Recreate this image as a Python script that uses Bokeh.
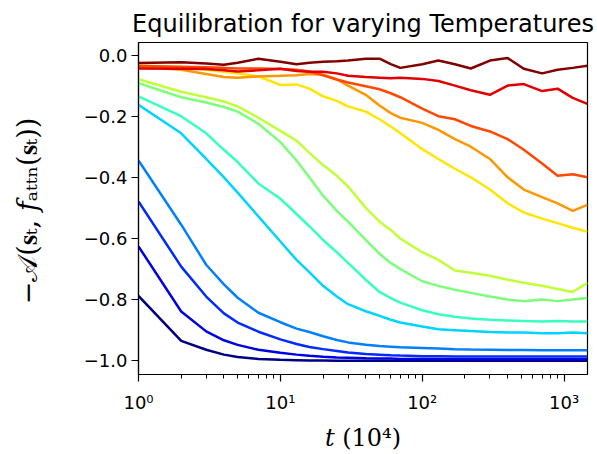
from bokeh.plotting import figure
from bokeh.models import Range1d, FixedTicker
from bokeh.embed import file_html
from bokeh.resources import INLINE

# time steps (units of 10^4)
t = [1, 2, 3, 4, 5, 7, 10, 13, 16, 20, 25, 30, 40, 50, 60, 70, 100, 130, 170,
     220, 300, 400, 520, 700, 900, 1150, 1460]

# one curve per temperature, coldest (navy) to hottest (dark red)
y_navy = [-0.788, -0.935, -0.964, -0.980, -0.988, -0.994, -0.997, -0.998, -0.999, -0.999,
          -1.0, -1.0, -1.0, -1.0, -1.0, -1.0, -1.0, -1.0, -1.0, -1.0, -1.0, -1.0, -1.0,
          -1.0, -1.0, -1.0, -1.0]
y_darkblue = [-0.626, -0.839, -0.904, -0.933, -0.948, -0.964, -0.974, -0.980, -0.984, -0.987,
              -0.989, -0.990, -0.992, -0.993, -0.993, -0.994, -0.994, -0.994, -0.995, -0.995,
              -0.995, -0.995, -0.995, -0.995, -0.995, -0.995, -0.995]
y_blue = [-0.479, -0.692, -0.790, -0.845, -0.875, -0.905, -0.930, -0.945, -0.955, -0.962,
          -0.968, -0.973, -0.978, -0.980, -0.982, -0.983, -0.985, -0.985, -0.986, -0.986,
          -0.986, -0.986, -0.986, -0.986, -0.986, -0.986, -0.986]
y_azure = [-0.345, -0.555, -0.686, -0.750, -0.794, -0.843, -0.874, -0.895, -0.906, -0.920,
           -0.932, -0.940, -0.948, -0.952, -0.954, -0.956, -0.958, -0.960, -0.962, -0.963,
           -0.964, -0.965, -0.965, -0.966, -0.966, -0.966, -0.966]
y_cyan = [-0.163, -0.256, -0.340, -0.400, -0.450, -0.528, -0.610, -0.670, -0.710, -0.755,
          -0.790, -0.815, -0.838, -0.853, -0.866, -0.875, -0.888, -0.897, -0.900, -0.903,
          -0.906, -0.908, -0.908, -0.910, -0.910, -0.908, -0.910]
y_aqua = [-0.135, -0.200, -0.256, -0.310, -0.350, -0.420, -0.470, -0.520, -0.560, -0.605,
          -0.645, -0.680, -0.735, -0.775, -0.795, -0.810, -0.835, -0.848, -0.856, -0.862,
          -0.866, -0.868, -0.870, -0.872, -0.870, -0.872, -0.872]
y_lightgreen = [-0.092, -0.138, -0.155, -0.170, -0.185, -0.225, -0.285, -0.345, -0.400, -0.460,
                -0.510, -0.545, -0.605, -0.650, -0.680, -0.700, -0.740, -0.755, -0.768, -0.778,
                -0.790, -0.800, -0.805, -0.800, -0.805, -0.800, -0.795]
y_yellowgreen = [-0.079, -0.120, -0.138, -0.152, -0.168, -0.205, -0.248, -0.280, -0.320, -0.360,
                 -0.395, -0.430, -0.500, -0.545, -0.572, -0.600, -0.645, -0.670, -0.705, -0.712,
                 -0.722, -0.735, -0.745, -0.755, -0.765, -0.775, -0.745]
y_yellow = [-0.034, -0.040, -0.048, -0.055, -0.060, -0.070, -0.098, -0.096, -0.110, -0.135,
            -0.150, -0.168, -0.185, -0.210, -0.234, -0.255, -0.308, -0.340, -0.372, -0.400,
            -0.440, -0.485, -0.515, -0.535, -0.550, -0.565, -0.578]
y_orange = [-0.038, -0.048, -0.062, -0.072, -0.074, -0.070, -0.068, -0.066, -0.062, -0.064,
            -0.080, -0.100, -0.130, -0.165, -0.190, -0.205, -0.222, -0.245, -0.275, -0.300,
            -0.340, -0.400, -0.440, -0.465, -0.485, -0.510, -0.490]
y_orangered = [-0.036, -0.038, -0.040, -0.042, -0.044, -0.044, -0.046, -0.048, -0.054, -0.066,
               -0.080, -0.090, -0.102, -0.112, -0.125, -0.138, -0.175, -0.200, -0.210, -0.232,
               -0.250, -0.275, -0.310, -0.355, -0.395, -0.390, -0.400]
y_red = [-0.044, -0.045, -0.046, -0.050, -0.054, -0.050, -0.045, -0.052, -0.055, -0.055,
         -0.060, -0.068, -0.072, -0.074, -0.076, -0.074, -0.078, -0.085, -0.100, -0.115,
         -0.130, -0.100, -0.095, -0.118, -0.110, -0.140, -0.160]
y_darkred = [-0.026, -0.024, -0.028, -0.032, -0.025, -0.012, -0.022, -0.030, -0.025, -0.022,
             -0.020, -0.018, -0.012, -0.012, -0.030, -0.042, -0.030, -0.018, -0.030, -0.044,
             -0.018, -0.010, -0.045, -0.060, -0.048, -0.042, -0.035]

series = [y_navy, y_darkblue, y_blue, y_azure, y_cyan, y_aqua, y_lightgreen,
          y_yellowgreen, y_yellow, y_orange, y_orangered, y_red, y_darkred]
colors = ["#000080", "#0000e0", "#002bff", "#0080ff", "#00d4ff", "#37ffc0", "#7bff7b",
          "#c0ff37", "#ffe600", "#ff9700", "#ff4800", "#e00000", "#800000"]

x_ticks = [1, 10, 100, 1000]
x_tick_labels = ["10⁰", "10¹", "10²", "10³"]
y_ticks = [-1.0, -0.8, -0.6, -0.4, -0.2, 0.0]
y_tick_labels = ["−1.0", "−0.8", "−0.6", "−0.4", "−0.2", "0.0"]

title = "Equilibration for varying Temperatures"
x_label = "𝑡 (10⁴)"
y_label = "−𝒜(𝐬ₜ, 𝑓ₐₜₜₙ(𝐬ₜ))"

p = figure(width=597, height=454, x_axis_type="log",
           x_range=Range1d(1, 1462), y_range=Range1d(-1.045, 0.041),
           output_backend="svg", toolbar_location=None,
           min_border_left=138, min_border_right=10,
           min_border_top=42, min_border_bottom=77)

for ys, c in zip(series, colors):
    p.line(t, ys, line_color=c, line_width=2.5)

p.title.text = title
p.title.align = "center"
p.title.text_font = "DejaVu Sans"
p.title.text_font_size = "24px"
p.title.text_font_style = "normal"
p.title.text_color = "black"
p.title.standoff = 9

p.grid.visible = False
p.outline_line_color = "black"
p.outline_line_width = 1.2

minor = [m * 10 ** k for k in range(0, 4) for m in range(2, 10)]
p.xaxis.ticker = FixedTicker(ticks=x_ticks, minor_ticks=minor)
p.xaxis.major_label_overrides = dict(zip(x_ticks, x_tick_labels))
p.yaxis.ticker = FixedTicker(ticks=y_ticks, minor_ticks=[])
p.yaxis.major_label_overrides = dict(zip(y_ticks, y_tick_labels))

for ax in (p.xaxis, p.yaxis):
    ax.axis_line_color = "black"
    ax.axis_line_width = 1.2
    ax.major_tick_line_color = "black"
    ax.major_tick_line_width = 1.2
    ax.minor_tick_line_color = "black"
    ax.minor_tick_line_width = 1.0
    ax.major_tick_out = 7
    ax.major_tick_in = 0
    ax.minor_tick_out = 4
    ax.minor_tick_in = 0
    ax.major_label_text_font = "DejaVu Sans"
    ax.major_label_text_font_size = "18px"
    ax.major_label_text_color = "black"
    ax.axis_label_text_font = "DejaVu Serif"
    ax.axis_label_text_font_style = "normal"
    ax.axis_label_text_color = "black"
    ax.major_label_standoff = 4

p.xaxis.major_label_standoff = 10
p.xaxis.axis_label = x_label
p.yaxis.axis_label = y_label
p.xaxis.axis_label_text_font_size = "24px"
p.yaxis.axis_label_text_font_size = "27px"
p.xaxis.axis_label_standoff = 8
p.yaxis.axis_label_standoff = 38

open("out.html", "w").write(file_html(p, INLINE))
